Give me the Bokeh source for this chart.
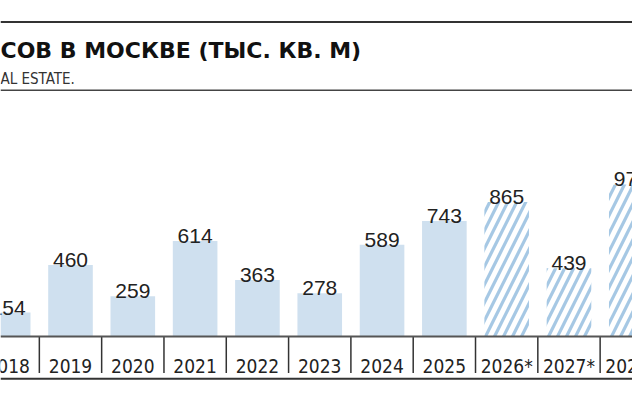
from bokeh.plotting import figure
from bokeh.models import Range1d, Span, Label, ColumnDataSource
from bokeh.core.properties import value
from bokeh.embed import file_html
from bokeh.resources import INLINE

# ---- data ----
years = [2018, 2019, 2020, 2021, 2022, 2023, 2024, 2025, 2026, 2027, 2028]
year_labels = ["2018", "2019", "2020", "2021", "2022", "2023", "2024", "2025",
               "2026*", "2027*", "2028*"]
values = [154, 460, 259, 614, 363, 278, 589, 743, 865, 439, 977]
is_forecast = [False, False, False, False, False, False, False, False, True, True, True]
title_text = "СОВ В МОСКВЕ (ТЫС. КВ. М)"
subtitle_text = "AL ESTATE."

# ---- geometry (reference pixel -> data) ----
W, H = 632, 392
XS = 62.31      # px per year
YS = 0.1556     # px per unit
BASE = 336      # baseline pixel row
x_start = 2019 - 70 / XS
y_start = -(H - BASE) / YS


def rx(px):
    return 2019 + (px - 70) / XS


def ry(py):
    return (BASE - py) / YS


p = figure(width=W, height=H, output_backend="svg", toolbar_location=None,
           x_range=Range1d(x_start, x_start + W / XS),
           y_range=Range1d(y_start, y_start + H / YS),
           x_axis_location=None, y_axis_location=None,
           min_border=0, outline_line_color=None, background_fill_color="white",
           border_fill_color="white")
p.grid.visible = False

solid = ColumnDataSource(dict(
    x=[y for y, f in zip(years, is_forecast) if not f],
    top=[v for v, f in zip(values, is_forecast) if not f]))
fc = ColumnDataSource(dict(
    x=[y for y, f in zip(years, is_forecast) if f],
    top=[v for v, f in zip(values, is_forecast) if f]))

p.vbar(x="x", top="top", bottom=0, width=0.716, source=solid,
       fill_color="#cfe0ef", line_color=None)
p.vbar(x="x", top="top", bottom=0, width=0.716, source=fc,
       fill_color="white", line_color=None,
       hatch_pattern="/", hatch_color="#a6c8e4", hatch_scale=18, hatch_weight=3.2)

# baseline and separators
p.add_layout(Span(location=0, dimension="width", line_color="#555555", line_width=2))
mids = [y + 0.5 for y in years[:-1]]
p.segment(x0=mids, y0=[0] * len(mids), x1=mids, y1=[ry(372.5)] * len(mids),
          line_color="#333333", line_width=1.5)
p.add_layout(Span(location=ry(378.3), dimension="width", line_color="#333333", line_width=2))

# header rules
p.add_layout(Span(location=ry(21.5), dimension="width", line_color="#333333", line_width=2))
p.add_layout(Span(location=ry(89.7), dimension="width", line_color="#444444", line_width=1.5))

# value labels
p.text(x=years, y=values, text=[str(v) for v in values],
       text_align="center", text_baseline="alphabetic", y_offset=-5,
       text_font=value("Liberation Sans"), text_font_size="21px", text_color="#222222")

# category labels
p.text(x=years, y=[0] * len(years), text=year_labels,
       text_align="center", text_baseline="alphabetic", y_offset=29,
       text_font=value("DejaVu Sans Condensed"), text_font_size="19px",
       text_color="#222222")

# title & subtitle
p.add_layout(Label(x=rx(0), y=ry(50), text=title_text, text_align="left",
                   text_baseline="alphabetic", text_font="DejaVu Sans",
                   text_font_style="bold", text_font_size="22px", text_color="#111111"))
p.add_layout(Label(x=rx(0), y=ry(78.5), text=subtitle_text, text_align="left",
                   text_baseline="alphabetic", text_font="DejaVu Sans Condensed",
                   text_font_size="15px", text_color="#333333"))

open("out.html", "w").write(file_html(p, INLINE))
